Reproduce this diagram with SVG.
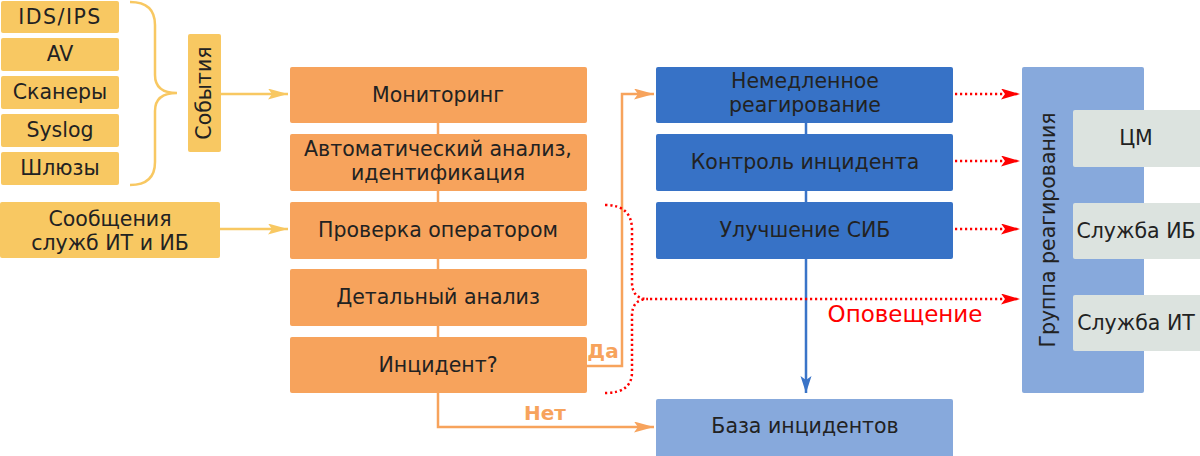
<svg xmlns="http://www.w3.org/2000/svg" width="1200" height="456" viewBox="0 0 1200 456">
<defs>
<style>
text{font-family:"DejaVu Sans","Verdana",sans-serif;font-size:20.5px;fill:#222;text-anchor:middle}
.y{fill:#F8C862}
.o{fill:#F7A35C}
.b{fill:#3772C6}
.lb{fill:#87A9DC}
.g{fill:#DCE3DF}
.lbl{font-weight:bold;fill:#F7A35C;font-size:20px}
.red{fill:#FF0000;font-size:23px}
.ly{stroke:#F8C862;stroke-width:2.5;fill:none}
.lo{stroke:#F7A35C;stroke-width:2.5;fill:none}
.lblue{stroke:#3A74C8;stroke-width:2.5;fill:none}
.lr{stroke:#FF0000;stroke-width:2.5;fill:none;stroke-dasharray:2.2 2.8}
</style>
<marker id="ay" markerUnits="userSpaceOnUse" markerWidth="21" markerHeight="12" refX="20" refY="5.5" orient="auto"><path d="M0,0 L20,5.5 L0,11 L4,5.5 z" fill="#F8C862"/></marker>
<marker id="ao" markerUnits="userSpaceOnUse" markerWidth="21" markerHeight="12" refX="20" refY="5.5" orient="auto"><path d="M0,0 L20,5.5 L0,11 L4,5.5 z" fill="#F7A35C"/></marker>
<marker id="ar" markerUnits="userSpaceOnUse" markerWidth="20" markerHeight="12" refX="19" refY="5.5" orient="auto"><path d="M0,0 L19,5.5 L0,11 L4,5.5 z" fill="#FF0000"/></marker>
<marker id="ab" markerUnits="userSpaceOnUse" markerWidth="18" markerHeight="12" refX="17" refY="5.5" orient="auto"><path d="M0,0 L17,5.5 L0,11 L4,5.5 z" fill="#3A74C8"/></marker>
</defs>
<rect width="1200" height="456" fill="#fff"/>

<g id="connectors">
<path class="ly" d="M130,2 Q155,2 155,25 L155,75 Q155,93 177,93 Q155,93 155,111 L155,162 Q155,185 130,185"/>
<path class="ly" d="M221,94 L288,94" marker-end="url(#ay)"/>
<path class="ly" d="M220,229 L288,229" marker-end="url(#ay)"/>
<path class="lo" d="M438,123 L438,427 L654,427" marker-end="url(#ao)"/>
<path class="lo" d="M587,366 L622,366 L622,94 L654,94" marker-end="url(#ao)"/>
<path class="lblue" d="M806,123 L806,393" marker-end="url(#ab)"/>
<path class="lr" d="M955,94 L1020,94" marker-end="url(#ar)"/>
<path class="lr" d="M955,161 L1020,161" marker-end="url(#ar)"/>
<path class="lr" d="M955,229 L1020,229" marker-end="url(#ar)"/>
<path class="lr" d="M605,205 Q632,205 632,230 L632,282 Q632,299 648,299 Q632,299 632,316 L632,372 Q632,393 605,393"/>
<path class="lr" d="M650,299 L1020,299" marker-end="url(#ar)"/>
<text class="lbl" x="603" y="358">Да</text>
<text class="lbl" x="545" y="420">Нет</text>
<text class="red" x="905" y="322">Оповещение</text>
</g>

<g id="ids"><rect class="y" x="1" y="1" width="118" height="32" rx="2"/><text x="60" y="24" letter-spacing="1.5">IDS/IPS</text></g>
<g id="av"><rect class="y" x="1" y="38" width="118" height="33" rx="2"/><text x="60" y="61">AV</text></g>
<g id="scan"><rect class="y" x="1" y="76" width="118" height="33" rx="2"/><text x="60" y="99">Сканеры</text></g>
<g id="syslog"><rect class="y" x="1" y="114" width="118" height="33" rx="2"/><text x="60" y="137">Syslog</text></g>
<g id="gw"><rect class="y" x="1" y="152" width="118" height="33" rx="2"/><text x="60" y="175">Шлюзы</text></g>
<g id="events"><rect class="y" x="188" y="34" width="33" height="118" rx="2"/><text transform="translate(211,93) rotate(-90)">События</text></g>
<g id="msgs"><rect class="y" x="0" y="202" width="220" height="56" rx="2"/><text x="110" y="226">Сообщения</text><text x="110" y="250">служб ИТ и ИБ</text></g>

<g id="mon"><rect class="o" x="290" y="67" width="297" height="56" rx="2"/><text x="438" y="102">Мониторинг</text></g>
<g id="auto"><rect class="o" x="290" y="134" width="297" height="57" rx="2"/><text x="438" y="156">Автоматический анализ,</text><text x="438" y="180">идентификация</text></g>
<g id="oper"><rect class="o" x="290" y="202" width="297" height="57" rx="2"/><text x="438" y="237">Проверка оператором</text></g>
<g id="detail"><rect class="o" x="290" y="269" width="297" height="57" rx="2"/><text x="438" y="304">Детальный анализ</text></g>
<g id="incident"><rect class="o" x="290" y="337" width="297" height="56" rx="2"/><text x="438" y="372">Инцидент?</text></g>

<g id="immediate"><rect class="b" x="656" y="67" width="297" height="56" rx="2"/><text x="805" y="88">Немедленное</text><text x="805" y="112">реагирование</text></g>
<g id="control"><rect class="b" x="656" y="134" width="297" height="57" rx="2"/><text x="805" y="169">Контроль инцидента</text></g>
<g id="improve"><rect class="b" x="656" y="202" width="297" height="57" rx="2"/><text x="805" y="237">Улучшение СИБ</text></g>
<g id="db"><rect class="lb" x="656" y="399" width="297" height="60" rx="2"/><text x="805" y="433">База инцидентов</text></g>

<g id="group"><rect class="lb" x="1022" y="67" width="122" height="326" rx="2"/><text transform="translate(1055,230) rotate(-90)">Группа реагирования</text></g>
<g id="cm"><rect class="g" x="1073" y="110" width="130" height="57" rx="2"/><text x="1136" y="145">ЦМ</text></g>
<g id="sib"><rect class="g" x="1073" y="203" width="130" height="56" rx="2"/><text x="1136" y="238">Служба ИБ</text></g>
<g id="sit"><rect class="g" x="1073" y="295" width="130" height="56" rx="2"/><text x="1136" y="330">Служба ИТ</text></g>
</svg>
